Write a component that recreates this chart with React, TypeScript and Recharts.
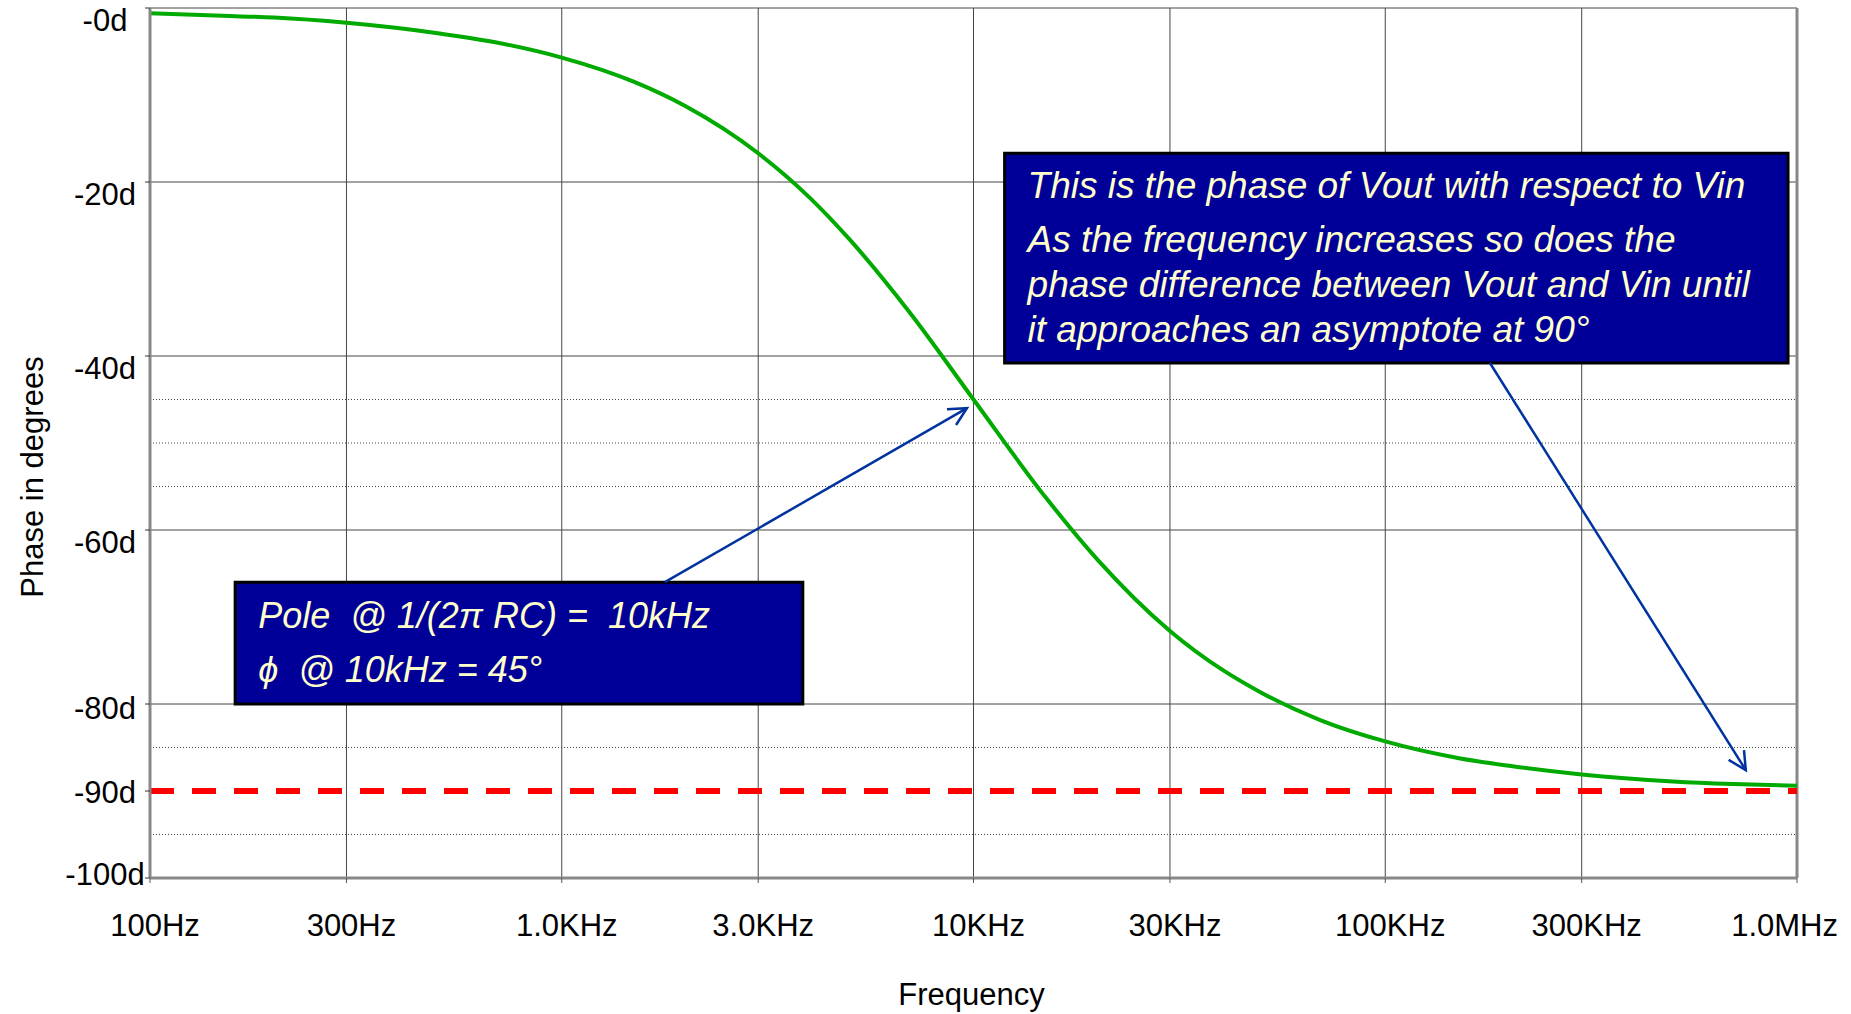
import React from 'react';
import {
  LineChart,
  Line,
  XAxis,
  YAxis,
  CartesianGrid,
  ReferenceLine,
  ReferenceArea,
} from 'recharts';

const freqHz = [100, 150, 200, 300, 500, 700, 1000, 1500, 2000, 3000, 4000, 5000, 7000, 10000, 15000, 20000, 30000, 40000, 50000, 70000, 100000, 150000, 200000, 300000, 500000, 700000, 1000000];
const phaseDeg = [-0.6, -0.9, -1.1, -1.7, -2.9, -4.0, -5.7, -8.5, -11.3, -16.7, -21.8, -26.6, -35.0, -45.0, -56.3, -63.4, -71.6, -76.0, -78.7, -81.9, -84.3, -86.2, -87.1, -88.1, -88.9, -89.2, -89.4];

const freqTicks = [100, 300, 1000, 3000, 10000, 30000, 100000, 300000, 1000000];
const freqLabels = ['100Hz', '300Hz', '1.0KHz', '3.0KHz', '10KHz', '30KHz', '100KHz', '300KHz', '1.0MHz'];
const phaseTicks = [0, -20, -40, -60, -80, -90, -100];
const phaseLabels = ['-0d', '-20d', '-40d', '-60d', '-80d', '-90d', '-100d'];
const majorGrid = [0, -20, -40, -60, -80];
const minorGrid = [-45, -50, -55, -85, -95];
const asymptote = -90;

const phaseNote = [
  'This is the phase of Vout with respect to Vin',
  'As the frequency increases so does the',
  'phase difference between Vout and Vin until',
  'it approaches an asymptote at 90°',
];
const poleNote = ['Pole  @ 1/(2π RC) =  10kHz', 'ϕ  @ 10kHz = 45°'];

// annotation anchors, in data units (Hz, degrees)
const phaseBox = { x1: 11900, x2: 951000, y1: -16.7, y2: -40.8 };
const poleBox = { x1: 161, x2: 3850, y1: -66, y2: -80 };
const poleArrow = [{ x: 1780, y: -66 }, { x: 9640, y: -46 }];
const phaseArrow = [{ x: 179600, y: -40.8 }, { x: 751000, y: -87.6 }];

const data = freqHz.map((f, i) => ({ f, phase: phaseDeg[i] }));

const FONT = '"Liberation Sans", Arial, sans-serif';

const XTick = (props: any) => {
  const { x, y, payload } = props;
  const i = freqTicks.indexOf(payload.value);
  const last = i === freqTicks.length - 1;
  return (
    <text
      x={last ? x + 41 : x + 5}
      y={y}
      dy="0.71em"
      textAnchor={last ? 'end' : 'middle'}
      fontSize={31}
      fontFamily={FONT}
      fill="#000"
    >
      {freqLabels[i]}
    </text>
  );
};

const YTick = (props: any) => {
  const { x, y, payload } = props;
  const i = phaseTicks.indexOf(payload.value);
  const v = payload.value;
  const shift = v >= -60 ? 12 : v === -80 ? 4 : v === -90 ? 1 : -4;
  return (
    <text
      x={x - 26}
      y={y + shift}
      dy="0.355em"
      textAnchor="middle"
      fontSize={31}
      fontFamily={FONT}
      fill="#000"
    >
      {phaseLabels[i]}
    </text>
  );
};

const noteText = (lines: string[], baselines: number[], padX: number, size: number) => (props: any) => {
  const vb = props.viewBox || {};
  return (
    <g>
      {lines.map((t, i) => (
        <text
          key={i}
          x={vb.x + padX}
          y={vb.y + baselines[i]}
          fontSize={size}
          fontStyle="italic"
          fontFamily={FONT}
          fill="#FFFFCC"
          style={{ whiteSpace: 'pre' }}
        >
          {t}
        </text>
      ))}
    </g>
  );
};

const arrowShape = (props: any) => {
  const { x1, y1, x2, y2 } = props;
  const ang = Math.atan2(y2 - y1, x2 - x1);
  const len = 20;
  const spread = (27 * Math.PI) / 180;
  const ax = x2 - len * Math.cos(ang - spread);
  const ay = y2 - len * Math.sin(ang - spread);
  const bx = x2 - len * Math.cos(ang + spread);
  const by = y2 - len * Math.sin(ang + spread);
  return (
    <g stroke="#0033A0" strokeWidth={2.5} fill="none">
      <line x1={x1} y1={y1} x2={x2} y2={y2} />
      <polyline points={`${ax},${ay} ${x2},${y2} ${bx},${by}`} />
    </g>
  );
};

export default function App() {
  return (
    <div style={{ position: 'absolute', left: 0, top: 0, background: '#fff' }}>
      <LineChart
        width={1851}
        height={1014}
        data={data}
        margin={{ top: 8, right: 54, left: 0, bottom: 0 }}
      >
        <CartesianGrid
          stroke="#444"
          strokeWidth={1}
          horizontalValues={majorGrid}
          verticalValues={freqTicks}
        />
        <CartesianGrid
          stroke="#444"
          strokeWidth={1}
          strokeDasharray="1 2"
          vertical={false}
          horizontalValues={minorGrid}
        />
        <XAxis
          dataKey="f"
          type="number"
          scale="log"
          domain={[100, 1000000]}
          ticks={freqTicks}
          allowDataOverflow
          height={136}
          axisLine={{ stroke: '#888', strokeWidth: 3 }}
          tickLine={{ stroke: '#555' }}
          tickSize={5}
          tickMargin={31}
          tick={<XTick />}
          interval={0}
          label={(p: any) => {
            const vb = p.viewBox || {};
            return (
              <text
                x={vb.x + vb.width / 2 - 2}
                y={vb.y + 127}
                textAnchor="middle"
                fontSize={31}
                fontFamily={FONT}
                fill="#000"
              >
                Frequency
              </text>
            );
          }}
        />
        <YAxis
          type="number"
          domain={[-100, 0]}
          ticks={phaseTicks}
          allowDataOverflow
          width={150}
          axisLine={{ stroke: '#888', strokeWidth: 3 }}
          tickLine={{ stroke: '#333' }}
          tickSize={5}
          tickMargin={14}
          tick={<YTick />}
          interval={0}
          label={(p: any) => {
            const vb = p.viewBox || {};
            const cx = vb.x + 43;
            const cy = vb.y + vb.height / 2 + 34;
            return (
              <text
                x={cx}
                y={cy}
                textAnchor="middle"
                transform={`rotate(-90, ${cx}, ${cy})`}
                fontSize={31}
                fontFamily={FONT}
                fill="#000"
              >
                Phase in degrees
              </text>
            );
          }}
        />
        <ReferenceLine x={1000000} stroke="#888" strokeWidth={3} />
        <ReferenceLine
          y={asymptote}
          stroke="#FF0000"
          strokeWidth={6}
          strokeDasharray="24 18"
        />
        <Line
          dataKey="phase"
          type="monotone"
          stroke="#00AA00"
          strokeWidth={4}
          dot={false}
          activeDot={false}
          isAnimationActive={false}
        />
        <ReferenceArea
          {...phaseBox}
          fill="#000099"
          fillOpacity={1}
          stroke="#000"
          strokeWidth={3}
          label={noteText(phaseNote, [45, 99, 144, 189], 23, 37)}
        />
        <ReferenceArea
          {...poleBox}
          fill="#000099"
          fillOpacity={1}
          stroke="#000"
          strokeWidth={3}
          label={noteText(poleNote, [46, 100], 23, 36)}
        />
        <ReferenceLine segment={poleArrow} shape={arrowShape} />
        <ReferenceLine segment={phaseArrow} shape={arrowShape} />
      </LineChart>
    </div>
  );
}
